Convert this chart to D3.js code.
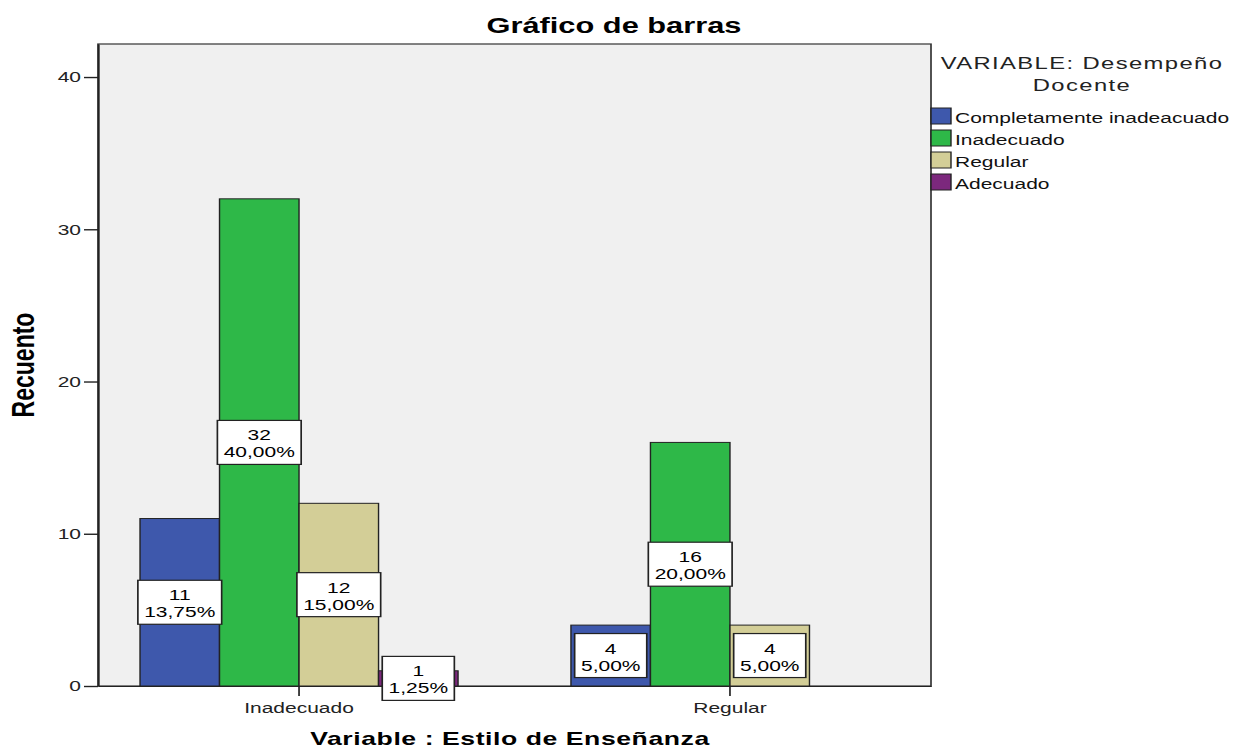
<!DOCTYPE html>
<html>
<head>
<meta charset="utf-8">
<script src="https://cdn.jsdelivr.net/npm/d3@7"></script>
<style>
	html, body { margin: 0; padding: 0; background: #fff; }
	svg { display: block; font-family: Arial, 'Liberation Sans', sans-serif; }
</style>
</head>
<body>
<div class="container"></div>
<script>
// data
var categories = ['Inadecuado', 'Regular'];
var series = ['Completamente inadeacuado', 'Inadecuado', 'Regular', 'Adecuado'];
var colors = ['#3E58AC', '#2EB848', '#D3CE97', '#7C287D'];
// counts per category, one value per series
var countsInadecuado = [11, 32, 12, 1];
var countsRegular = [4, 16, 4, 0];
var yTicks = [0, 10, 20, 30, 40];
var total = 80;

var counts = [countsInadecuado, countsRegular];

// the picture is stretched sideways, so draw in a narrow box and stretch it
var SX = 1.4,
	W = 1239,
	H = 756,
	vx = function (p) { return p / SX; };

var plot = { left: vx(98), right: vx(931), top: 44, bottom: 686 };

var svg = d3.select('.container')
	.append('svg')
	.attr('width', W)
	.attr('height', H)
	.attr('viewBox', '0 0 ' + vx(W) + ' ' + H)
	.attr('preserveAspectRatio', 'none');

var y = d3.scaleLinear()
	.domain([0, 42.17])
	.range([plot.bottom, plot.top]);

var x0 = d3.scaleBand()
	.domain(categories)
	.range([plot.left, plot.right])
	.paddingInner(0.262)
	.paddingOuter(0.0975);

var x1 = d3.scaleBand()
	.domain(series)
	.range([0, x0.bandwidth()]);

var color = d3.scaleOrdinal()
	.domain(series)
	.range(colors);

var fmtPct = function (v) {
	return d3.format('.2f')(v / total * 100).replace('.', ',') + '%';
};

// title
svg.append('text')
	.attr('x', vx(614))
	.attr('y', 33)
	.attr('text-anchor', 'middle')
	.style('font-weight', 'bold')
	.style('font-size', '22px')
	.text('Gráfico de barras');

// plot background
svg.append('rect')
	.attr('x', plot.left)
	.attr('y', plot.top)
	.attr('width', plot.right - plot.left)
	.attr('height', plot.bottom - plot.top)
	.style('fill', '#F0F0F0')
	.style('stroke', '#333')
	.style('stroke-width', 1.2);

// bars
var groups = svg.append('g')
	.selectAll('g')
	.data(categories)
	.enter().append('g')
	.attr('transform', function (d) { return 'translate(' + x0(d) + ',0)'; });

var cells = groups.selectAll('g')
	.data(function (d, i) {
		return series.map(function (s, j) {
			return { cat: d, series: s, value: counts[i][j] };
		}).filter(function (d) { return d.value > 0; });
	})
	.enter().append('g');

cells.append('rect')
	.attr('x', function (d) { return x1(d.series); })
	.attr('y', function (d) { return y(d.value); })
	.attr('width', x1.bandwidth())
	.attr('height', function (d) { return y(0) - y(d.value); })
	.style('fill', function (d) { return color(d.series); })
	.style('stroke', '#222')
	.style('stroke-width', 1);

// y axis
var yAxis = svg.append('g')
	.attr('transform', 'translate(' + plot.left + ',0)')
	.call(d3.axisLeft(y).tickValues(yTicks).tickSize(vx(14)).tickPadding(vx(3)).tickSizeOuter(0));

yAxis.select('.domain').style('stroke', '#222').style('stroke-width', 1.4);
yAxis.selectAll('.tick line').style('stroke', '#222').style('stroke-width', 1.4);
yAxis.selectAll('.tick text')
	.style('font-size', '15px')
	.style('font-family', 'Arial, Liberation Sans, sans-serif')
	.style('fill', '#222');

// x axis
var xAxis = svg.append('g')
	.attr('transform', 'translate(0,' + plot.bottom + ')')
	.call(d3.axisBottom(x0).tickSize(10).tickPadding(6).tickSizeOuter(0));

xAxis.select('.domain').style('stroke', '#222').style('stroke-width', 1.2);
xAxis.selectAll('.tick line').style('stroke', '#222').style('stroke-width', 1.2);
xAxis.selectAll('.tick text')
	.style('font-size', '15px')
	.style('font-family', 'Arial, Liberation Sans, sans-serif')
	.style('fill', '#222');

// axis titles
svg.append('text')
	.attr('transform', 'translate(' + vx(34) + ',365) rotate(-90)')
	.attr('text-anchor', 'middle')
	.style('font-weight', 'bold')
	.style('font-size', '23px')
	.text('Recuento');

svg.append('text')
	.attr('x', vx(510))
	.attr('y', 745)
	.attr('text-anchor', 'middle')
	.style('font-weight', 'bold')
	.style('font-size', '19px')
	.style('letter-spacing', '0.4px')
	.text('Variable : Estilo de Enseñanza');

// value labels
var labels = svg.append('g')
	.selectAll('g')
	.data(cells.data())
	.enter().append('g')
	.attr('transform', function (d) {
		var cx = x0(d.cat) + x1(d.series) + x1.bandwidth() / 2,
			cy = (y(d.value) + y(0)) / 2;
		return 'translate(' + cx + ',' + cy + ')';
	});

labels.each(function (d) {
	var node = d3.select(this),
		pct = fmtPct(d.value),
		box = node.append('rect'),
		t1, t2, w;

	t1 = node.append('text')
		.attr('y', -2)
		.attr('text-anchor', 'middle')
		.style('font-size', '15px')
		.text(d.value);

	t2 = node.append('text')
		.attr('y', 15)
		.attr('text-anchor', 'middle')
		.style('font-size', '15px')
		.text(pct);

	w = Math.max(t1.node().getComputedTextLength(), t2.node().getComputedTextLength()) + 9;

	box.attr('x', -w / 2)
		.attr('y', -22)
		.attr('width', w)
		.attr('height', 44)
		.style('fill', '#fff')
		.style('stroke', '#222')
		.style('stroke-width', 1.2);
});

// legend
var legend = svg.append('g')
	.attr('transform', 'translate(' + vx(931) + ',0)');

legend.append('text')
	.attr('x', vx(1082 - 931))
	.attr('y', 69)
	.attr('text-anchor', 'middle')
	.style('font-size', '17px')
	.style('letter-spacing', '1px')
	.style('fill', '#222')
	.text('VARIABLE: Desempeño');

legend.append('text')
	.attr('x', vx(1082 - 931))
	.attr('y', 91)
	.attr('text-anchor', 'middle')
	.style('font-size', '17px')
	.style('letter-spacing', '1px')
	.style('fill', '#222')
	.text('Docente');

var items = legend.selectAll('.item')
	.data(series)
	.enter().append('g')
	.classed('item', true)
	.attr('transform', function (d, i) { return 'translate(0,' + (123 + i * 22) + ')'; });

items.append('rect')
	.attr('x', 0)
	.attr('y', -15)
	.attr('width', vx(20))
	.attr('height', 16)
	.style('fill', function (d) { return color(d); })
	.style('stroke', '#222')
	.style('stroke-width', 1);

items.append('text')
	.attr('x', vx(24))
	.attr('y', 0)
	.style('font-size', '15px')
	.style('fill', '#111')
	.text(function (d) { return d; });
</script>
</body>
</html>
